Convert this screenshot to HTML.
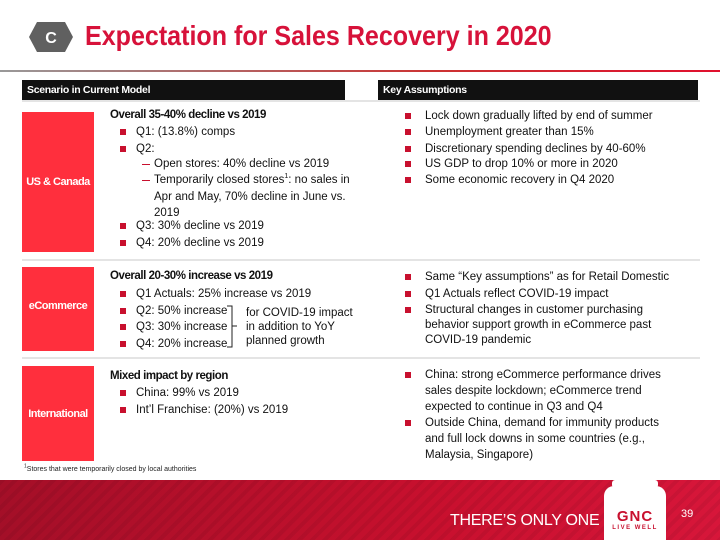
<!DOCTYPE html>
<html><head><meta charset="utf-8">
<style>
body{margin:0;width:720px;height:540px;position:relative;overflow:hidden;background:#fff;font-family:"Liberation Sans",sans-serif;color:#111}
.a{position:absolute;white-space:nowrap}
.t{font-size:11.5px;line-height:14px}
.b{font-weight:bold;font-size:11.5px;letter-spacing:-0.45px}
sup{line-height:0}
.sq{position:absolute;width:6px;height:6px;background:#c8102e}
.dash{position:absolute;width:8px;height:1px;background:#c8102e}
.box{position:absolute;left:22px;width:72px;background:#ff2f3d;color:#fff;font-weight:bold;font-size:11px;display:flex;align-items:center;justify-content:center;letter-spacing:-0.5px}
.hdr{position:absolute;top:80px;height:20px;background:#111;color:#fff;font-weight:bold;font-size:10.5px;line-height:20px;padding-left:5px;box-sizing:border-box;letter-spacing:-0.3px}
.sep{position:absolute;left:22px;width:678px;height:2px;background:#e4e4e4}
</style></head><body>
<svg class="a" style="left:29px;top:22px" width="44" height="30"><polygon points="8,0 36,0 44,15 36,30 8,30 0,15" fill="#606060"/><text x="22" y="21" fill="#fff" font-size="16" font-weight="bold" text-anchor="middle" font-family="Liberation Sans">C</text></svg>
<div class="a" style="left:85px;top:20px;font-size:28px;font-weight:bold;color:#d7123a;transform:scaleX(0.895);transform-origin:left top">Expectation for Sales Recovery in 2020</div>
<div class="a" style="left:0;top:70px;width:720px;height:2px;background:linear-gradient(90deg,#999,#c33 60%,#e0102e)"></div>
<div class="hdr" style="left:22px;width:323px">Scenario in Current Model</div>
<div class="hdr" style="left:378px;width:320px">Key Assumptions</div>
<div class="sep" style="top:100px"></div>
<div class="sep" style="top:259px"></div>
<div class="sep" style="top:357px"></div>

<div class="box" style="top:112px;height:140px">US &amp; Canada</div>
<div class="box" style="top:267px;height:84px;align-items:flex-start;padding-top:33px;box-sizing:border-box">eCommerce</div>
<div class="box" style="top:366px;height:95px">International</div>

<!-- US -->
<div class="a b" style="left:110px;top:109px">Overall 35-40% decline vs 2019</div>
<div class="sq" style="left:120px;top:129px"></div><div class="a t" style="left:136px;top:125px">Q1: (13.8%) comps</div>
<div class="sq" style="left:120px;top:146px"></div><div class="a t" style="left:136px;top:142px">Q2:</div>
<div class="dash" style="left:142px;top:164px"></div><div class="a t" style="left:154px;top:157px">Open stores: 40% decline vs 2019</div>
<div class="dash" style="left:142px;top:180px"></div><div class="a t" style="left:154px;top:173px">Temporarily closed stores<sup style="font-size:7px">1</sup>: no sales in</div>
<div class="a t" style="left:154px;top:190px">Apr and May, 70% decline in June vs.</div>
<div class="a t" style="left:154px;top:206px">2019</div>
<div class="sq" style="left:120px;top:223px"></div><div class="a t" style="left:136px;top:219px">Q3: 30% decline vs 2019</div>
<div class="sq" style="left:120px;top:240px"></div><div class="a t" style="left:136px;top:236px">Q4: 20% decline vs 2019</div>

<div class="sq" style="left:405px;top:113px"></div><div class="a t" style="left:425px;top:109px">Lock down gradually lifted by end of summer</div>
<div class="sq" style="left:405px;top:129px"></div><div class="a t" style="left:425px;top:125px">Unemployment greater than 15%</div>
<div class="sq" style="left:405px;top:146px"></div><div class="a t" style="left:425px;top:142px">Discretionary spending declines by 40-60%</div>
<div class="sq" style="left:405px;top:161px"></div><div class="a t" style="left:425px;top:157px">US GDP to drop 10% or more in 2020</div>
<div class="sq" style="left:405px;top:177px"></div><div class="a t" style="left:425px;top:173px">Some economic recovery in Q4 2020</div>

<!-- eCommerce -->
<div class="a b" style="left:110px;top:270px">Overall 20-30% increase vs 2019</div>
<div class="sq" style="left:120px;top:291px"></div><div class="a t" style="left:136px;top:287px">Q1 Actuals: 25% increase vs 2019</div>
<div class="sq" style="left:120px;top:308px"></div><div class="a t" style="left:136px;top:304px">Q2: 50% increase</div>
<div class="sq" style="left:120px;top:324px"></div><div class="a t" style="left:136px;top:320px">Q3: 30% increase</div>
<div class="sq" style="left:120px;top:341px"></div><div class="a t" style="left:136px;top:337px">Q4: 20% increase</div>
<svg class="a" style="left:224px;top:304px" width="16" height="46"><path d="M3,2 H8 V43 H3 M8,22 H13" fill="none" stroke="#222" stroke-width="1"/></svg>
<div class="a t" style="left:246px;top:306px">for COVID-19 impact</div>
<div class="a t" style="left:246px;top:320px">in addition to YoY</div>
<div class="a t" style="left:246px;top:334px">planned growth</div>

<div class="sq" style="left:405px;top:274px"></div><div class="a t" style="left:425px;top:270px">Same “Key assumptions” as for Retail Domestic</div>
<div class="sq" style="left:405px;top:291px"></div><div class="a t" style="left:425px;top:287px">Q1 Actuals reflect COVID-19 impact</div>
<div class="sq" style="left:405px;top:307px"></div><div class="a t" style="left:425px;top:303px">Structural changes in customer purchasing</div>
<div class="a t" style="left:425px;top:318px">behavior support growth in eCommerce past</div>
<div class="a t" style="left:425px;top:333px">COVID-19 pandemic</div>

<!-- International -->
<div class="a b" style="left:110px;top:370px">Mixed impact by region</div>
<div class="sq" style="left:120px;top:390px"></div><div class="a t" style="left:136px;top:386px">China: 99% vs 2019</div>
<div class="sq" style="left:120px;top:407px"></div><div class="a t" style="left:136px;top:403px">Int’l Franchise: (20%) vs 2019</div>

<div class="sq" style="left:405px;top:372px"></div><div class="a t" style="left:425px;top:368px">China: strong eCommerce performance drives</div>
<div class="a t" style="left:425px;top:384px">sales despite lockdown; eCommerce trend</div>
<div class="a t" style="left:425px;top:400px">expected to continue in Q3 and Q4</div>
<div class="sq" style="left:405px;top:420px"></div><div class="a t" style="left:425px;top:416px">Outside China, demand for immunity products</div>
<div class="a t" style="left:425px;top:432px">and full lock downs in some countries (e.g.,</div>
<div class="a t" style="left:425px;top:448px">Malaysia, Singapore)</div>

<div class="a" style="left:24px;top:466px;font-size:7px;color:#222"><sup style="font-size:5px">1</sup>Stores that were temporarily closed by local authorities</div>

<!-- footer -->
<div class="a" style="left:0;top:480px;width:720px;height:60px;background:repeating-linear-gradient(135deg,rgba(0,0,0,0.06) 0 4px,rgba(0,0,0,0) 4px 9px),linear-gradient(90deg,#a40f28,#c8102e 60%,#d7163a)"></div>
<div class="a" style="left:450px;top:512px;font-size:16px;color:#fff;letter-spacing:-0.3px">THERE’S ONLY ONE</div>
<div class="a" style="left:604px;top:486px;width:62px;height:54px;background:#fff;border-radius:10px 10px 0 0"></div>
<div class="a" style="left:612px;top:480px;width:46px;height:8px;background:#fff;border-radius:3px"></div>
<div class="a" style="left:604px;top:510px;width:62px;text-align:center;font-weight:bold;font-size:15px;color:#c8102e;letter-spacing:1px;line-height:14px">GNC</div>
<div class="a" style="left:604px;top:525px;width:62px;text-align:center;font-weight:bold;font-size:6px;color:#c8102e;letter-spacing:1.5px">LIVE WELL</div>
<div class="a" style="left:681px;top:508px;font-size:11px;color:#fff">39</div>
</body></html>
